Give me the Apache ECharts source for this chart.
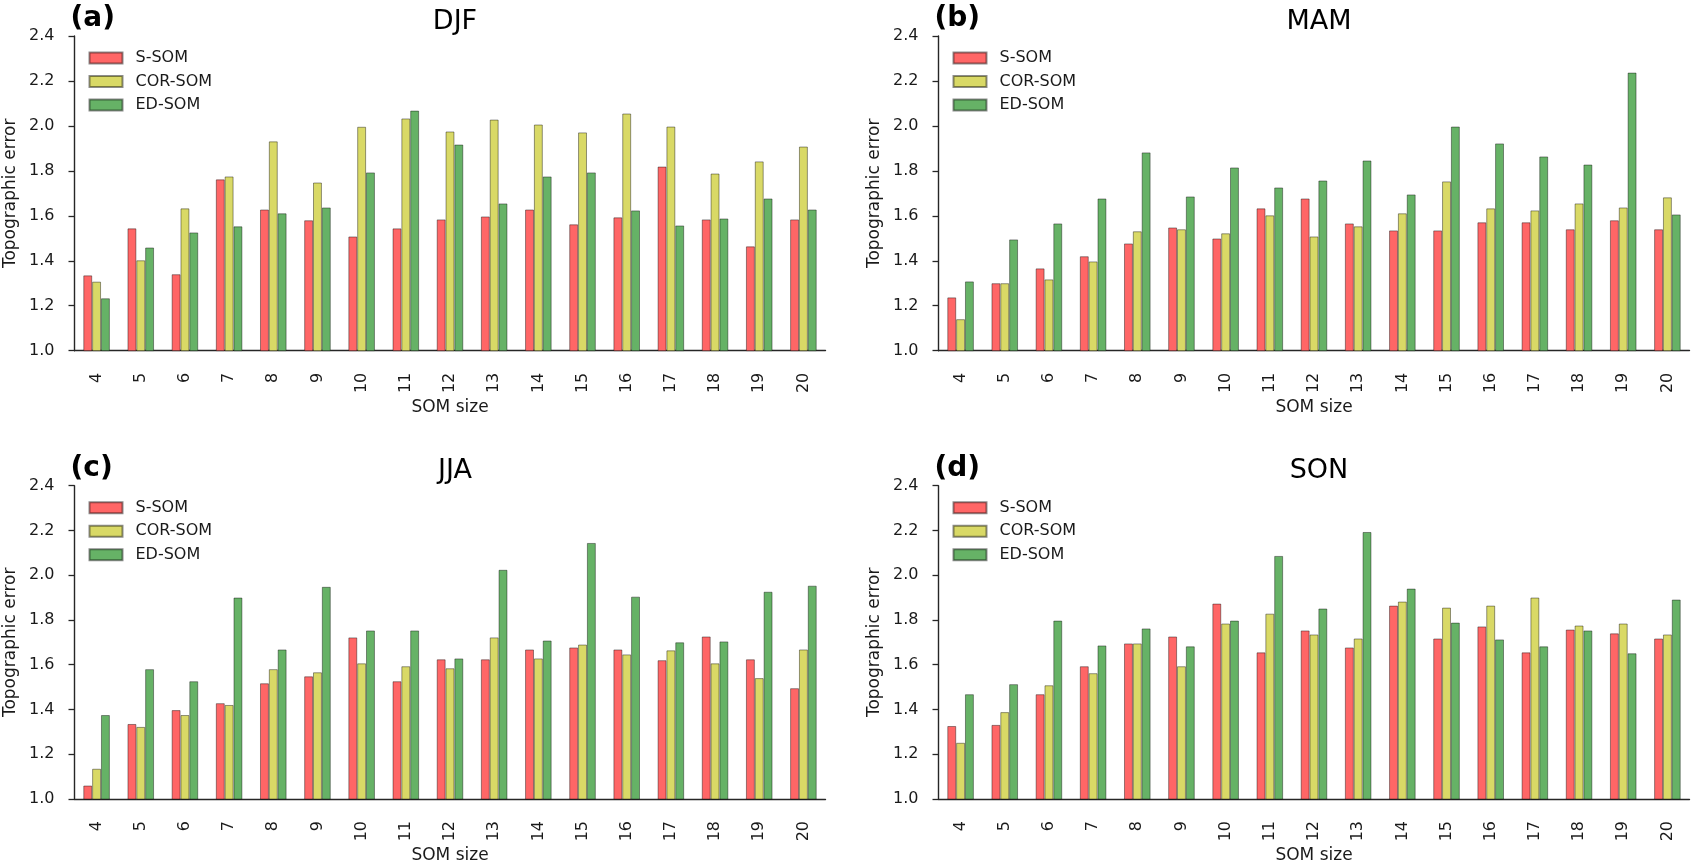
<!DOCTYPE html>
<html>
<head>
<meta charset="utf-8">
<script src="https://cdn.jsdelivr.net/npm/echarts@6/dist/echarts.min.js"></script>
<style>
html,body{margin:0;padding:0;background:#fff;}
#c{width:1694px;height:865px;}
</style>
</head>
<body>
<div id="c"></div>
<script>
const sizes = ['4','5','6','7','8','9','10','11','12','13','14','15','16','17','18','19','20'];
const seriesNames = ['S-SOM','COR-SOM','ED-SOM'];
const yTicks = [1.0, 1.2, 1.4, 1.6, 1.8, 2.0, 2.2, 2.4];
const panelTitles = ['DJF','MAM','JJA','SON'];
const panelLetters = ['(a)','(b)','(c)','(d)'];

const djfS   = [1.335,1.544,1.340,1.762,1.628,1.580,1.508,1.544,1.584,1.597,1.628,1.562,1.593,1.819,1.584,1.464,1.584];
const djfCOR = [1.307,1.402,1.633,1.775,1.931,1.748,1.996,2.033,1.975,2.028,2.006,1.971,2.055,1.997,1.788,1.842,1.908];
const djfED  = [1.233,1.459,1.526,1.553,1.611,1.637,1.793,2.068,1.917,1.655,1.775,1.793,1.624,1.557,1.588,1.677,1.628];

const mamS   = [1.237,1.300,1.366,1.420,1.477,1.548,1.499,1.633,1.677,1.566,1.535,1.535,1.571,1.571,1.540,1.580,1.540];
const mamCOR = [1.140,1.300,1.317,1.397,1.531,1.540,1.522,1.602,1.508,1.553,1.611,1.753,1.633,1.624,1.655,1.637,1.682];
const mamED  = [1.308,1.495,1.566,1.677,1.882,1.686,1.815,1.726,1.757,1.846,1.695,1.997,1.922,1.864,1.828,2.237,1.606];

const jjaS   = [1.060,1.335,1.397,1.428,1.517,1.548,1.722,1.526,1.624,1.624,1.668,1.677,1.668,1.620,1.726,1.624,1.495];
const jjaCOR = [1.135,1.322,1.375,1.420,1.580,1.566,1.606,1.593,1.584,1.722,1.628,1.690,1.646,1.664,1.606,1.540,1.668];
const jjaED  = [1.375,1.580,1.526,1.900,1.668,1.948,1.753,1.753,1.628,2.024,1.708,2.144,1.904,1.700,1.704,1.926,1.953];

const sonS   = [1.326,1.331,1.468,1.593,1.695,1.726,1.873,1.655,1.753,1.677,1.864,1.717,1.771,1.655,1.757,1.740,1.717];
const sonCOR = [1.251,1.388,1.508,1.562,1.695,1.593,1.784,1.828,1.735,1.717,1.882,1.855,1.864,1.900,1.775,1.784,1.735];
const sonED  = [1.468,1.513,1.797,1.686,1.762,1.682,1.797,2.086,1.851,2.193,1.940,1.788,1.713,1.682,1.753,1.651,1.891];

const panelData = [
  [djfS, djfCOR, djfED],
  [mamS, mamCOR, mamED],
  [jjaS, jjaCOR, jjaED],
  [sonS, sonCOR, sonED]
];

const colors = ['#ff6666', '#d9d966', '#66b266'];
const FONT = 'DejaVu Sans';
const INK = '#1a1a1a';

const grids = [
  {left: 74.5, top: 36, width: 751, height: 314.7},
  {left: 938.5, top: 36, width: 751, height: 314.7},
  {left: 74.5, top: 485.7, width: 751, height: 315},
  {left: 938.5, top: 485.7, width: 751, height: 315}
];

const option = {
  animation: false,
  backgroundColor: '#ffffff',
  textStyle: {fontFamily: FONT},
  grid: grids.map(g => Object.assign({containLabel: false}, g)),
  title: [],
  legend: [],
  xAxis: [],
  yAxis: [],
  series: []
};

grids.forEach((g, i) => {
  option.title.push({
    text: panelTitles[i],
    left: g.left + g.width / 2,
    textAlign: 'center',
    top: g.top - 33,
    textStyle: {fontFamily: FONT, fontSize: 27, fontWeight: 'normal', color: '#000'}
  });
  option.title.push({
    text: panelLetters[i],
    left: g.left - 9,
    top: g.top - 36,
    textStyle: {fontFamily: FONT, fontSize: 28, fontWeight: 'bold', color: '#000'}
  });
  option.legend.push({
    orient: 'vertical',
    left: g.left + 9,
    top: g.top + 9,
    data: seriesNames,
    icon: 'rect',
    itemWidth: 33,
    itemHeight: 11,
    itemGap: 7.5,
    selectedMode: false,
    textStyle: {fontFamily: FONT, fontSize: 16, color: INK, lineHeight: 16, padding: [0, 0, 0, 8]}
  });
  option.xAxis.push({
    type: 'category',
    gridIndex: i,
    data: sizes,
    boundaryGap: true,
    name: 'SOM size',
    nameLocation: 'middle',
    nameGap: 48,
    nameTextStyle: {fontFamily: FONT, fontSize: 17, color: INK, verticalAlign: 'top'},
    axisLine: {lineStyle: {color: '#262626', width: 1.4}},
    axisTick: {alignWithLabel: true, length: 6, lineStyle: {color: '#262626', width: 1.3}},
    axisLabel: {rotate: 90, margin: 22, fontFamily: FONT, fontSize: 16, color: INK, interval: 0},
    splitLine: {show: false}
  });
  option.yAxis.push({
    type: 'value',
    gridIndex: i,
    min: 1.0,
    max: 2.4,
    interval: 0.2,
    name: 'Topographic error',
    nameLocation: 'middle',
    nameGap: 55,
    nameTextStyle: {fontFamily: FONT, fontSize: 17, color: INK},
    axisLine: {show: true, lineStyle: {color: '#262626', width: 1.4}},
    axisTick: {show: true, length: 6, lineStyle: {color: '#262626', width: 1.3}},
    axisLabel: {margin: 20, fontFamily: FONT, fontSize: 16, color: INK, formatter: v => v.toFixed(1)},
    splitLine: {show: false}
  });
  panelData[i].forEach((arr, k) => {
    option.series.push({
      name: seriesNames[k],
      type: 'bar',
      xAxisIndex: i,
      yAxisIndex: i,
      data: arr,
      barWidth: '20%',
      barGap: '0%',
      itemStyle: {color: colors[k], borderColor: 'rgba(0,0,0,0.45)', borderWidth: 0.9},
      emphasis: {disabled: true}
    });
  });
});

const chart = echarts.init(document.getElementById('c'), null, {renderer: 'canvas'});
chart.setOption(option);
</script>
</body>
</html>
